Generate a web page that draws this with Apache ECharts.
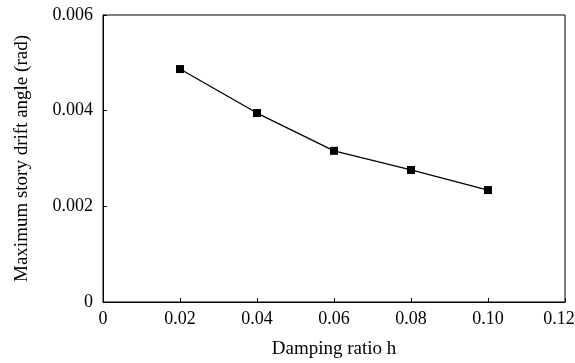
<!DOCTYPE html>
<html lang="en">
<head>
    <meta charset="utf-8"/>
    <title>Maximum story drift angle vs damping ratio</title>
    <script src="https://cdn.jsdelivr.net/npm/echarts@6/dist/echarts.min.js"></script>
    <style>
        html, body { margin: 0; padding: 0; background: #fff; }
        #chart { width: 575px; height: 363px; }
    </style>
</head>
<body>
<div id="chart"></div>
<script>
    // data
    var dampingRatio = [0.02, 0.04, 0.06, 0.08, 0.10];
    var driftAngle = [0.00487, 0.00395, 0.00316, 0.00276, 0.00234];
    var xTicks = [0, 0.02, 0.04, 0.06, 0.08, 0.10, 0.12];
    var yTicks = [0, 0.002, 0.004, 0.006];

    var font = '"Liberation Serif", "DejaVu Serif", serif';
    var xMax = xTicks[xTicks.length - 1];

    var points = [];
    for (var i = 0; i < dampingRatio.length; i++) {
        points.push([dampingRatio[i], driftAngle[i]]);
    }

    var chart = echarts.init(document.getElementById('chart'));
    var option = {
        animation: false,
        grid: {
            left: 103, right: 10, top: 15, bottom: 61,
            outerBoundsMode: 'none',
            containLabel: false,
            show: true,
            borderColor: '#000',
            borderWidth: 1
        },
        xAxis: {
            type: 'value',
            min: xTicks[0],
            max: xMax,
            interval: 0.02,
            name: 'Damping ratio h',
            nameLocation: 'middle',
            nameGap: 38,
            nameTextStyle: { fontFamily: font, fontSize: 19, color: '#000' },
            axisLine: { lineStyle: { color: '#000', width: 1 } },
            axisTick: { inside: true, length: 4, lineStyle: { color: '#000' } },
            splitLine: { show: false },
            axisLabel: {
                fontFamily: font, fontSize: 18, color: '#000', margin: 8,
                formatter: function (v) {
                    if (v === 0) return '0';
                    // last label sits a little to the left so it stays on the page
                    if (Math.abs(v - xMax) < 1e-9) return '{last|' + v.toFixed(2) + '}';
                    return v.toFixed(2);
                },
                rich: {
                    last: { fontFamily: font, fontSize: 18, color: '#000', padding: [0, 12, 0, 0] }
                }
            }
        },
        yAxis: {
            type: 'value',
            min: yTicks[0],
            max: yTicks[yTicks.length - 1],
            interval: 0.002,
            name: 'Maximum story drift angle (rad)',
            nameLocation: 'middle',
            nameGap: 71,
            nameTextStyle: { fontFamily: font, fontSize: 19, color: '#000' },
            axisLine: { show: true, lineStyle: { color: '#000', width: 1 } },
            axisTick: { show: true, inside: true, length: 4, lineStyle: { color: '#000' } },
            splitLine: { show: false },
            axisLabel: {
                fontFamily: font, fontSize: 18, color: '#000', margin: 10,
                formatter: function (v) { return v === 0 ? '0' : v.toFixed(3); }
            }
        },
        series: [{
            type: 'line',
            data: points,
            symbol: 'rect',
            symbolSize: 8,
            lineStyle: { color: '#000', width: 1.3 },
            itemStyle: { color: '#000' }
        }]
    };
    chart.setOption(option);
</script>
</body>
</html>
